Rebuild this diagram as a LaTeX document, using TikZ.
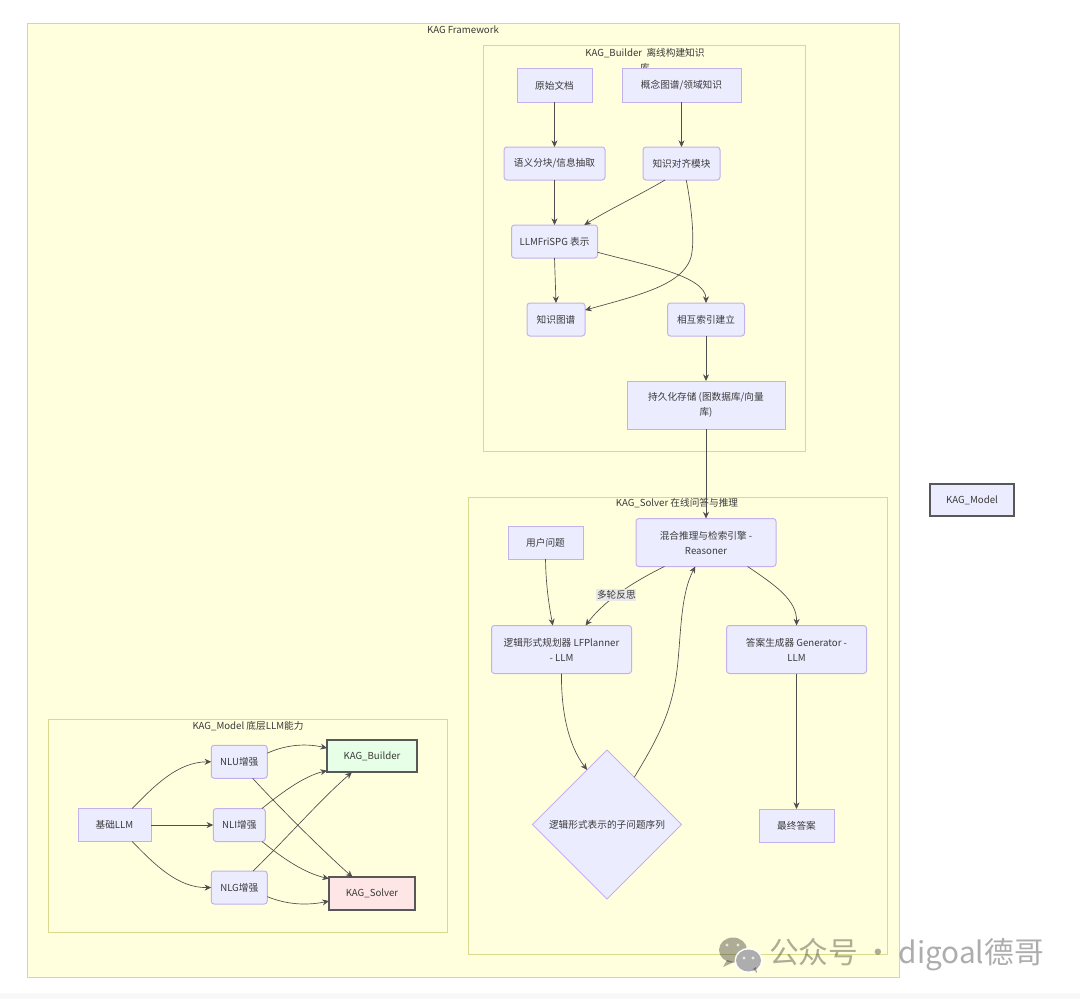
\documentclass[tikz,border=0pt]{standalone}
\usepackage{fontspec}
\setmainfont{Noto Sans CJK SC}
\usepackage{tikz}
\usetikzlibrary{arrows.meta}
\usetikzlibrary{shapes.geometric}
\definecolor{clusterfill}{HTML}{FFFFDE}
\definecolor{clusterline}{HTML}{D9D990}
\definecolor{boxfill}{HTML}{ECECFF}
\definecolor{boxline}{HTML}{C4B0EE}
\definecolor{inkgray}{HTML}{3A3A3A}
\definecolor{greenfill}{HTML}{E6FFE6}
\definecolor{redfill}{HTML}{FFE6E6}
\definecolor{edgebg}{HTML}{E8E8E8}
\definecolor{stripgray}{HTML}{F8F8F8}
\tikzset{
    every node/.style={font=\fontsize{7.25}{11.25}\selectfont, text=inkgray, align=center, inner sep=0pt, outer sep=0pt},
    clusterbox/.style={draw=clusterline, fill=clusterfill, line width=0.75pt},
    plainbox/.style={draw=boxline, fill=boxfill, line width=0.75pt},
    roundbox/.style={plainbox, rounded corners=2.2pt},
    heavybox/.style={draw=inkgray!85, line width=1.4pt},
    flow/.style={draw=inkgray!90, line width=0.5pt, -{Stealth[length=5pt,width=4.5pt]}},
    edgetag/.style={fill=edgebg, inner xsep=0.5pt, inner ysep=1pt},
    mark text/.style={text=black, text opacity=0.32, font=\fontsize{22.3}{24}\selectfont},
    mark shape/.style={fill=black, fill opacity=0.32}
}

\begin{document}
\begin{tikzpicture}[x=0.75pt, y=-0.75pt]
    \useasboundingbox (0,0) rectangle (1080,999);
    \fill[white] (0,0) rectangle (1080,999);
    \fill[stripgray] (0,993) rectangle (1080,999);

    % clusters
    \foreach \n/\x/\y/\w/\h in {
        frameAll/463/500.5/872/953,
        frameBuilder/644/248.5/322/405,
        frameSolver/677.5/725.5/419/457,
        frameModel/247.75/825.5/398.5/213}
        \node[clusterbox, minimum width=\w*0.75pt, minimum height=\h*0.75pt] (\n) at (\x,\y) {};

    % cluster titles
    \foreach \n/\x/\y/\m in {
        titleAll/463/30/{KAG Framework},
        titleBuilder/645/60.5/{KAG\_Builder\ \ 离线构建知识\\库},
        titleSolver/677/503/{KAG\_Solver 在线问答与推理},
        titleModel/248/726/{KAG\_Model 底层LLM能力}}
        \node (\n) at (\x,\y) {\m};

    % square boxes
    \foreach \n/\x/\y/\w/\h/\m in {
        raw/554.5/85.5/75/33/{原始文档},
        concept/681.5/85.5/119/33/{概念图谱/领域知识},
        store/706/405/158/48/{持久化存储 (图数据库/向量\\库)},
        user/545.5/542.5/75/33/{用户问题},
        answer/796.5/825.5/75/33/{最终答案},
        base/114.5/825/73/33/{基础LLM}}
        \node[plainbox, minimum width=\w*0.75pt, minimum height=\h*0.75pt] (\n) at (\x,\y) {\m};

    % rounded boxes
    \foreach \n/\x/\y/\w/\h/\m in {
        chunk/554.5/163.5/101/33/{语义分块/信息抽取},
        align/681.5/163.5/77/33/{知识对齐模块},
        repr/554.5/241.5/86/33/{LLMFriSPG 表示},
        graph/556/319.5/58/33/{知识图谱},
        index/706/319.5/77/33/{相互索引建立},
        reasoner/706/542.5/140/48/{混合推理与检索引擎 -\\Reasoner},
        planner/561.5/649.5/140/48/{逻辑形式规划器 LFPlanner\\- LLM},
        generator/796.5/649.5/140/48/{答案生成器 Generator -\\LLM},
        nlu/239.25/761.75/56/33/{NLU增强},
        nli/239.25/825/52/33/{NLI增强},
        nlg/239.25/887.5/56/33/{NLG增强}}
        \node[roundbox, minimum width=\w*0.75pt, minimum height=\h*0.75pt] (\n) at (\x,\y) {\m};

    \node[plainbox, diamond, aspect=1, minimum width=111.75pt, minimum height=111.75pt] (subseq) at (607,824.5) {逻辑形式表示的子问题序列};

    % styled boxes
    \node[heavybox, fill=greenfill, minimum width=67.5pt, minimum height=24.5pt] (builder) at (372,756) {KAG\_Builder};
    \node[heavybox, fill=redfill, minimum width=64.5pt, minimum height=24.5pt] (solver) at (372,893.5) {KAG\_Solver};
    \node[heavybox, fill=boxfill, minimum width=63pt, minimum height=24pt] (model) at (972,500) {KAG\_Model};

    % straight links
    \foreach \a/\b in {
        raw/chunk, concept/align, chunk/repr, repr/graph,
        index/store, store/reasoner, generator/answer}
        \draw[flow] (\a.south) -- (\b.north);
    \draw[flow] (base.east) -- (nli.west);

    % builder curves
    \draw[flow] (align.-135) .. controls (636,197) and (608,210) .. (repr.29);
    \draw[flow] (align.-74) .. controls (693,215) and (695,248) .. (690,260)
        .. controls (680,285) and (640,295) .. (graph.18);
    \draw[flow] (repr.-14) .. controls (640,264) and (706,275) .. (index.north);

    % solver curves
    \draw[flow] (user.south) .. controls (546,590) and (550,610) .. (planner.110);
    \draw[flow] (reasoner.210) .. controls (625,586) and (602,604) .. node[edgetag, pos=0.5] (tagReflect) {多轮反思} (planner.45);
    \draw[flow] (reasoner.-30) .. controls (775,585) and (797,600) .. (generator.north);
    \draw[flow] (planner.south) .. controls (561,710) and (568,745) .. (subseq.110);
    \draw[flow] (subseq.60) .. controls (660,735) and (672,710) .. (677,670)
        .. controls (681,638) and (680,595) .. (reasoner.-114);

    % model curves
    \draw[flow] (base.43) .. controls (155,785) and (178,762) .. (nlu.west);
    \draw[flow] (base.-43) .. controls (155,865) and (178,888) .. (nlg.west);
    \draw[flow] (nlu.17) .. controls (285,745) and (305,743) .. (builder.170);
    \draw[flow] (nlu.-51) .. controls (280,808) and (320,848) .. (solver.140);
    \draw[flow] (nli.36) .. controls (285,790) and (305,776) .. (builder.198);
    \draw[flow] (nli.-36) .. controls (285,860) and (305,873) .. (solver.161);
    \draw[flow] (nlg.50) .. controls (285,840) and (320,800) .. (builder.219);
    \draw[flow] (nlg.-18) .. controls (285,904) and (305,906) .. (solver.190);

    % watermark
    \fill[mark shape] (733,950) ellipse (14 and 12.5);
    \fill[mark shape] (727,960) -- (723,967) -- (734,962) -- cycle;
    \fill[white] (748.5,960.5) ellipse (14 and 12.5);
    \fill[mark shape] (748.5,960.5) ellipse (12.5 and 11);
    \fill[mark shape] (753,969) -- (757,973) -- (756,967) -- cycle;
    \foreach \x/\y in {727/945, 738/945, 744/958, 753/958}
        \fill[white, opacity=0.7] (\x,\y) circle (1.7);
    \node[mark text, anchor=west] (markText) at (769,955) {公众号\hspace{-1pt} · \hspace{-1pt}digoal德哥};
\end{tikzpicture}
\end{document}
